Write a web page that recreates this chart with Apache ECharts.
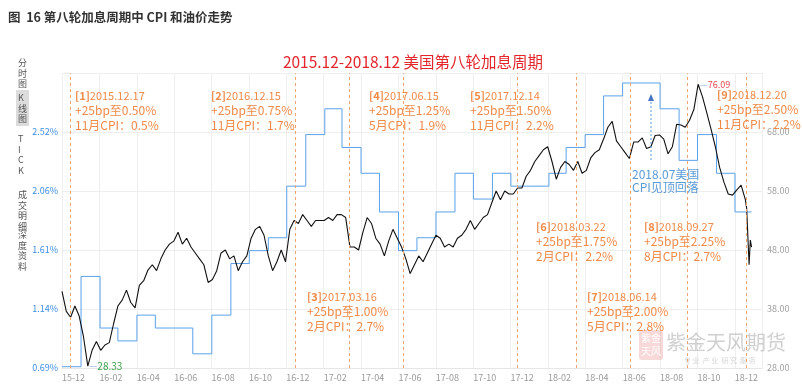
<!DOCTYPE html>
<html><head><meta charset="utf-8">
<script src="https://cdn.jsdelivr.net/npm/echarts@6.0.0/dist/echarts.min.js"></script>
<style>html,body{margin:0;padding:0;background:#fff}#c{width:802px;height:389px}</style>
</head><body><div id="c"></div>
<script>
// ---------- data ----------
const xTickLabels = ['15-12','16-02','16-04','16-06','16-08','16-10','16-12','17-02','17-04','17-06','17-08','17-10','17-12','18-02','18-04','18-06','18-08','18-10','18-12'];
const leftTickLabels = ['0.69%','1.14%','1.61%','2.06%','2.52%'];
const rightTickLabels = ['28.00','38.00','48.00','58.00','68.00'];

// US CPI YoY (%), each value shown from the first day of its month
const cpiMonths = ['2015-12','2016-01','2016-02','2016-03','2016-04','2016-05','2016-06','2016-07','2016-08','2016-09','2016-10','2016-11','2016-12',
  '2017-01','2017-02','2017-03','2017-04','2017-05','2017-06','2017-07','2017-08','2017-09','2017-10','2017-11','2017-12',
  '2018-01','2018-02','2018-03','2018-04','2018-05','2018-06','2018-07','2018-08','2018-09','2018-10','2018-11','2018-12'];
const cpiValues = [0.7,1.4,1.0,0.9,1.1,1.0,1.0,0.8,1.1,1.5,1.6,1.7,2.1,
  2.5,2.7,2.4,2.2,1.9,1.6,1.7,1.9,2.2,2.0,2.2,2.1,
  2.1,2.2,2.4,2.5,2.8,2.9,2.9,2.7,2.3,2.5,2.2,1.9];

// crude oil price
const oilDates = ['2015-12-01','2015-12-08','2015-12-15','2015-12-22','2015-12-29',
 '2016-01-05','2016-01-12','2016-01-19','2016-01-26','2016-02-02','2016-02-09','2016-02-16','2016-02-23','2016-03-01','2016-03-08','2016-03-15','2016-03-22','2016-03-29',
 '2016-04-05','2016-04-12','2016-04-19','2016-04-26','2016-05-03','2016-05-10','2016-05-17','2016-05-24','2016-05-31','2016-06-07','2016-06-14','2016-06-21','2016-06-28',
 '2016-07-05','2016-07-12','2016-07-19','2016-07-26','2016-08-02','2016-08-09','2016-08-16','2016-08-23','2016-08-30','2016-09-06','2016-09-13','2016-09-20','2016-09-27',
 '2016-10-04','2016-10-11','2016-10-18','2016-10-25','2016-11-01','2016-11-08','2016-11-15','2016-11-22','2016-11-29','2016-12-06','2016-12-13','2016-12-20','2016-12-27',
 '2017-01-03','2017-01-10','2017-01-17','2017-01-24','2017-01-31','2017-02-07','2017-02-14','2017-02-21','2017-02-28','2017-03-07','2017-03-14','2017-03-21','2017-03-28',
 '2017-04-04','2017-04-11','2017-04-18','2017-04-25','2017-05-02','2017-05-09','2017-05-16','2017-05-23','2017-05-30','2017-06-06','2017-06-13','2017-06-20','2017-06-27',
 '2017-07-04','2017-07-11','2017-07-18','2017-07-25','2017-08-01','2017-08-08','2017-08-15','2017-08-22','2017-08-29','2017-09-05','2017-09-12','2017-09-19','2017-09-26',
 '2017-10-03','2017-10-10','2017-10-17','2017-10-24','2017-10-31','2017-11-07','2017-11-14','2017-11-21','2017-11-28','2017-12-05','2017-12-12','2017-12-19','2017-12-26',
 '2018-01-02','2018-01-09','2018-01-16','2018-01-23','2018-01-30','2018-02-06','2018-02-13','2018-02-20','2018-02-27','2018-03-06','2018-03-13','2018-03-20','2018-03-27',
 '2018-04-03','2018-04-10','2018-04-17','2018-04-24','2018-05-01','2018-05-08','2018-05-15','2018-05-22','2018-05-29','2018-06-05','2018-06-12','2018-06-19','2018-06-26',
 '2018-07-03','2018-07-10','2018-07-17','2018-07-24','2018-07-31','2018-08-07','2018-08-14','2018-08-21','2018-08-28','2018-09-04','2018-09-11','2018-09-18','2018-09-25',
 '2018-10-02','2018-10-09','2018-10-16','2018-10-23','2018-10-30','2018-11-06','2018-11-13','2018-11-20','2018-11-27','2018-12-04','2018-12-11','2018-12-18','2018-12-20','2018-12-24','2018-12-26','2018-12-28'];
const oilPrices = [41.0,37.6,36.6,38.5,36.8,
 33.3,28.33,31.0,32.5,31.0,31.9,32.3,35.5,38.5,39.5,41.2,39.1,38.2,
 42.0,42.8,44.6,45.5,44.5,46.5,48.0,49.0,49.5,51.0,49.0,50.0,48.5,
 47.5,46.5,45.5,42.5,43.0,44.5,47.5,48.0,46.5,47.0,44.5,46.0,47.0,
 50.0,51.5,52.0,50.5,47.0,44.5,46.0,48.0,46.0,51.5,53.0,52.5,54.0,
 53.0,52.0,53.0,53.0,53.0,53.5,53.0,54.0,54.0,53.5,48.5,48.5,48.0,
 51.0,53.5,52.5,50.0,49.0,47.0,49.5,51.5,50.0,48.5,46.5,44.0,45.5,
 47.0,46.0,47.5,49.0,50.5,50.0,48.5,49.0,48.5,50.0,50.5,51.5,53.0,
 51.5,52.5,53.5,54.0,56.0,58.0,56.5,58.0,57.5,57.5,58.5,58.5,60.5,
 61.5,63.0,64.0,65.0,65.5,63.0,60.0,62.0,63.0,62.5,61.5,63.0,61.0,
 61.5,63.6,64.5,65.0,66.8,68.8,69.8,66.5,65.5,64.5,63.5,66.3,66.3,
 67.0,65.2,65.5,67.4,67.5,66.8,64.3,65.5,69.3,69.2,68.8,70.0,71.8,
 76.09,74.0,71.3,68.5,65.5,62.0,59.5,57.5,57.3,58.2,59.0,56.5,55.1,45.5,49.7,48.5];

// rate hikes
const hikeTags  = ['[1]','[2]','[3]','[4]','[5]','[6]','[7]','[8]','[9]'];
const hikeDates = ['2015.12.17','2016.12.15','2017.03.16','2017.06.15','2017.12.14','2018.03.22','2018.06.14','2018.09.27','2018.12.20'];
const hikeRates = ['0.50%','0.75%','1.00%','1.25%','1.50%','1.75%','2.00%','2.25%','2.50%'];
const hikeCpiMonths = ['11月','11月','2月','5月','11月','2月','5月','8月','11月'];
const hikeCpi = ['0.5%','1.7%','2.7%','1.9%','2.2%','2.2%','2.8%','2.7%','2.2%'];
const hikeLineDates = ['2015-12-14','2016-12-15','2017-03-12','2017-06-08','2017-12-11','2018-03-17','2018-06-13','2018-09-15','2018-12-20'];

const chartTitle = '2015.12-2018.12 美国第八轮加息周期';
const figTitle = '图  16 第八轮加息周期中 CPI 和油价走势';
const cpiNote = '2018.07美国\nCPI见顶回落';
const sideItems = ['分\n时\n图','K\n线\n图','T\nI\nC\nK','成\n交\n明\n细','深\n度\n资\n料'];

// ---------- helpers ----------
const DAY = 86400000;
function ts(s){const p=s.split('-').map(Number);return Date.UTC(p[0],p[1]-1,p[2]||1);}
const xMin = ts('2015-12-01');
const xInterval = 365.25/6*DAY;
const xMax = ts('2019-01-14');

const oilData = oilDates.map((d,i)=>[ts(d), oilPrices[i]]);
const cpiData = cpiMonths.map((m,i)=>[ts(m), cpiValues[i]]);
cpiData.push([ts(oilDates[oilDates.length-1]), cpiValues[cpiValues.length-1]]);

const FONT = '"Noto Sans CJK SC","Noto Sans",sans-serif';
const ORANGE = '#EF8A47';
const BLUE = '#5B9BD5';

// annotation block positions (px)
const annoPos = [[75,89],[211,89],[307,290],[369,89],[470,89],[536,220],[587,290],[644,220],[717,88]];

const graphics = [];
graphics.push({type:'text', left:8, top:11, style:{text:figTitle, fill:'#333', font:'bold 12.5px '+FONT}});
graphics.push({type:'text', x:413, y:62, style:{text:chartTitle, fill:'#E3262B', font:'15.5px '+FONT, align:'center', verticalAlign:'middle'}});
// sidebar
graphics.push({type:'rect', shape:{x:16,y:90,width:13,height:36}, style:{fill:'#dcdcdc'}});
const sideTops = [57,92,133,189,229];
sideItems.forEach((t,i)=>graphics.push({type:'text', left:18, top:sideTops[i], style:{text:t, fill:'#555', font:'9px '+FONT, lineHeight:10.8, align:'left'}}));
// annotations
hikeTags.forEach((tag,i)=>{
  graphics.push({type:'text', left:annoPos[i][0], top:annoPos[i][1], z:10, style:{
    text:'{b|'+tag+'}{d|'+hikeDates[i]+'}\n+25bp至'+hikeRates[i]+'\n'+hikeCpiMonths[i]+'CPI：'+hikeCpi[i],
    fill:ORANGE, font:'12px '+FONT, lineHeight:14.5,
    rich:{b:{fill:ORANGE, font:'bold 11px '+FONT, lineHeight:14.5}, d:{fill:ORANGE, font:'11px '+FONT, lineHeight:14.5}}
  }});
});
// CPI note + arrow
graphics.push({type:'text', left:632, top:168, z:10, style:{text:cpiNote, fill:BLUE, font:'12px '+FONT, lineHeight:13}});
graphics.push({type:'line', shape:{x1:651,y1:160,x2:651,y2:100}, style:{stroke:BLUE, lineWidth:1, lineDash:[2,2]}, z:10});
graphics.push({type:'polygon', shape:{points:[[648,101],[654,101],[651,94]]}, style:{fill:'#4472C4'}, z:10});
// watermark
graphics.push({type:'rect', shape:{x:639,y:330,width:24,height:30,r:3}, style:{fill:'rgba(225,120,120,0.28)'}, z:1});
graphics.push({type:'text', left:641, top:332, z:2, style:{text:'紫金\n天风', fill:'rgba(255,255,255,0.95)', font:'10px '+FONT, lineHeight:13}});
graphics.push({type:'text', left:666, top:332, z:1, style:{text:'紫金天风期货', fill:'rgba(150,150,150,0.45)', font:'20px '+FONT}});
graphics.push({type:'text', left:684, top:357, z:1, style:{text:'专 业  产 业  研 究  服 务', fill:'rgba(160,160,160,0.45)', font:'7px '+FONT}});

const chart = echarts.init(document.getElementById('c'), null, {renderer:'canvas'});
chart.setOption({
  backgroundColor:'#fff',
  animation:false,
  textStyle:{fontFamily:FONT},
  grid:{left:62, right:40, top:73, bottom:21, containLabel:false},
  xAxis:{type:'value', min:xMin, max:xMax, interval:xInterval,
    axisLine:{show:true, lineStyle:{color:'#e6e6e6'}},
    axisTick:{show:false},
    splitLine:{show:true, lineStyle:{color:'#eeeeee'}},
    axisLabel:{color:'#9a9a9a', fontSize:9, align:'left', margin:5,
      formatter:(v)=>{const k=Math.round((v-xMin)/xInterval); return (Math.abs(v-(xMin+k*xInterval))<DAY && xTickLabels[k])?xTickLabels[k]:'';}}
  },
  yAxis:[
    {type:'value', min:0.69, max:0.69+5*0.4575, interval:0.4575, position:'left',
      axisLine:{show:false}, axisTick:{show:false}, splitLine:{show:false},
      axisLabel:{color:'#3E8EE6', fontSize:9, margin:4,
        formatter:(v)=>{const k=Math.round((v-0.69)/0.4575); return leftTickLabels[k]||'';}}},
    {type:'value', min:28, max:78, interval:10, position:'right',
      axisLine:{show:false}, axisTick:{show:false},
      splitLine:{show:true, lineStyle:{color:'#eeeeee'}},
      axisLabel:{color:'#a0a0a0', fontSize:9, margin:5,
        formatter:(v)=>{const k=Math.round((v-28)/10); return rightTickLabels[k]||'';}}}
  ],
  series:[
    {type:'line', name:'CPI', yAxisIndex:0, data:cpiData, step:'end', showSymbol:false,
      lineStyle:{color:'#5AA2EA', width:1}, z:3},
    {type:'line', name:'oil', yAxisIndex:1, data:oilData, showSymbol:false,
      lineStyle:{color:'#111', width:1.1}, z:4,
      markLine:{silent:true, symbol:['none','none'], label:{show:false},
        lineStyle:{color:'#F2A56E', type:[3,3], width:1},
        data: hikeLineDates.map(d=>({xAxis:ts(d)}))},
      markPoint:{symbol:'rect', symbolSize:1, itemStyle:{color:'rgba(0,0,0,0)'},
        data:[
          {type:'max', label:{show:true, position:'right', distance:1, formatter:(p)=>'{l|—}{v|'+p.value.toFixed(2)+'}',
            rich:{l:{color:'#8fb3da', fontSize:9}, v:{color:'#E8454B', fontSize:9}}}},
          {type:'min', label:{show:true, position:'right', distance:1, formatter:(p)=>'{l|—}{v|'+p.value.toFixed(2)+'}',
            rich:{l:{color:'#8fb3da', fontSize:9}, v:{color:'#3BA34A', fontSize:10}}}}
        ]}
    }
  ],
  graphic:graphics
});
</script>
</body></html>
